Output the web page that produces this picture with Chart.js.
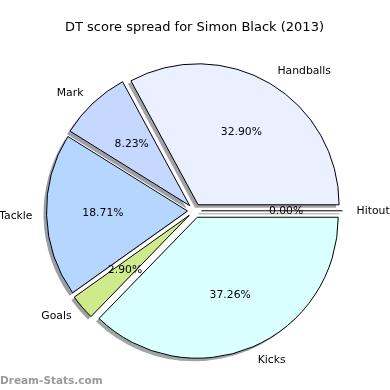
<!DOCTYPE html>
<html>
<head>
<meta charset="utf-8">
<script src="https://cdn.jsdelivr.net/npm/chart.js@4"></script>
<style>
  html, body { margin: 0; padding: 0; background: #fff; }
  canvas { display: block; }
</style>
</head>
<body>
<canvas id="pie" width="390" height="390"></canvas>
<script>
// values as shown in the picture (percent of DT score)
const categories = ["Handballs", "Mark", "Tackle", "Goals", "Kicks", "Hitout"];
const shares = [32.90, 8.23, 18.71, 2.90, 37.26, 0.00];
const sliceColors = ["#eaf0ff", "#c6d8ff", "#b4d6ff", "#ceea8b", "#daffff", "#ffd8d8"];
const chartTitle = "DT score spread for Simon Black (2013)";
const watermark = "Dream-Stats.com";

// the original runs counter-clockwise from 3 o'clock, chart.js goes clockwise
const labels = categories.slice().reverse();
const values = shares.slice().reverse();
const colors = sliceColors.slice().reverse();

const EXPLODE = 7;
const SHADOW_DX = -3;
const SHADOW_DY = 3;
const FONT = '"DejaVu Sans", sans-serif';

function midAngle(arc) {
  return (arc.startAngle + arc.endAngle) / 2;
}

function shadowOf(hex) {
  const n = parseInt(hex.slice(1), 16);
  const r = Math.round(((n >> 16) & 255) * 0.3);
  const g = Math.round(((n >> 8) & 255) * 0.3);
  const b = Math.round((n & 255) * 0.3);
  return `rgba(${r}, ${g}, ${b}, 0.5)`;
}

// push every slice outwards along its middle angle
const explodePlugin = {
  id: 'explode',
  afterDatasetsUpdate(chart) {
    const area = chart.chartArea;
    const cx = (area.left + area.right) / 2;
    const cy = (area.top + area.bottom) / 2;
    chart.getDatasetMeta(0).data.forEach(arc => {
      const a = midAngle(arc);
      arc.x = cx + Math.cos(a) * EXPLODE;
      arc.y = cy + Math.sin(a) * EXPLODE;
    });
  }
};

const shadowPlugin = {
  id: 'shadow',
  beforeDatasetsDraw(chart) {
    const ctx = chart.ctx;
    chart.getDatasetMeta(0).data.forEach((arc, i) => {
      const col = shadowOf(colors[i]);
      ctx.save();
      ctx.translate(SHADOW_DX, SHADOW_DY);
      ctx.fillStyle = col;
      ctx.strokeStyle = col;
      ctx.lineWidth = 1;
      ctx.beginPath();
      ctx.moveTo(arc.x, arc.y);
      if (arc.circumference > 0) {
        ctx.arc(arc.x, arc.y, arc.outerRadius, arc.startAngle, arc.endAngle);
        ctx.closePath();
        ctx.fill();
      } else {
        ctx.lineTo(arc.x + Math.cos(arc.startAngle) * arc.outerRadius,
                   arc.y + Math.sin(arc.startAngle) * arc.outerRadius);
        ctx.stroke();
      }
      ctx.restore();
    });
  }
};

const labelPlugin = {
  id: 'sliceLabels',
  afterDatasetsDraw(chart) {
    const ctx = chart.ctx;
    const meta = chart.getDatasetMeta(0);
    const total = values.reduce((s, v) => s + v, 0);

    ctx.save();
    // a zero slice still gets its edge drawn as a line
    meta.data.forEach(arc => {
      if (arc.circumference > 0) return;
      ctx.strokeStyle = '#000';
      ctx.lineWidth = 1;
      ctx.beginPath();
      ctx.moveTo(arc.x, arc.y);
      ctx.lineTo(arc.x + Math.cos(arc.startAngle) * arc.outerRadius,
                 arc.y + Math.sin(arc.startAngle) * arc.outerRadius);
      ctx.stroke();
    });

    ctx.font = '10.8px ' + FONT;
    ctx.fillStyle = '#000';
    ctx.textBaseline = 'middle';
    meta.data.forEach((arc, i) => {
      const a = midAngle(arc);
      const r = arc.outerRadius;
      const cos = Math.cos(a), sin = Math.sin(a);

      ctx.textAlign = cos > -1e-9 ? 'left' : 'right';
      ctx.fillText(labels[i], arc.x + cos * r * 1.1, arc.y + sin * r * 1.1);

      ctx.textAlign = 'center';
      const pct = (values[i] / total * 100).toFixed(2) + '%';
      ctx.fillText(pct, arc.x + cos * r * 0.6, arc.y + sin * r * 0.6);
    });
    ctx.restore();
  },
  afterDraw(chart) {
    const ctx = chart.ctx;
    ctx.save();
    ctx.font = 'bold 10.5px ' + FONT;
    ctx.fillStyle = '#9a9a9a';
    ctx.textAlign = 'left';
    ctx.textBaseline = 'alphabetic';
    ctx.fillText(watermark, 0, 384);
    ctx.restore();
  }
};

const pieChart = new Chart(document.getElementById('pie'), {
  type: 'pie',
  data: {
    labels: labels,
    datasets: [{
      data: values,
      backgroundColor: colors,
      borderColor: '#000',
      borderWidth: 1,
      borderJoinStyle: 'miter'
    }]
  },
  options: {
    responsive: false,
    animation: false,
    rotation: 90,
    radius: 141,
    layout: { padding: { left: 0, right: 1, top: 2, bottom: 4 } },
    plugins: {
      legend: { display: false },
      tooltip: { enabled: false },
      title: {
        display: true,
        text: chartTitle,
        color: '#000',
        font: { family: FONT, size: 13, weight: 'normal' },
        padding: { top: 18, bottom: 0 }
      }
    }
  },
  plugins: [explodePlugin, shadowPlugin, labelPlugin]
});
</script>
</body>
</html>
